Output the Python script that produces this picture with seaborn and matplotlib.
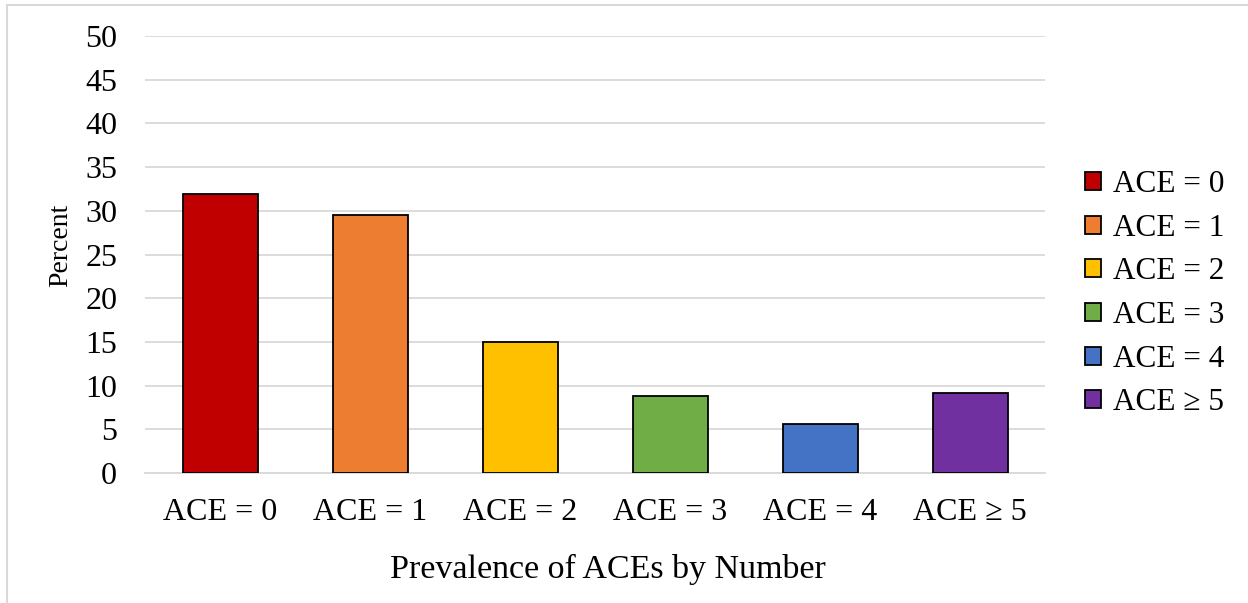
import matplotlib
matplotlib.use('Agg')
import matplotlib.pyplot as plt
import matplotlib.patches as mpatches
import seaborn as sns
import pandas as pd

# ==================== Data ====================
categories = ['ACE = 0', 'ACE = 1', 'ACE = 2', 'ACE = 3', 'ACE = 4', 'ACE \u2265 5']
percent = [31.9, 29.5, 15.0, 8.8, 5.6, 9.2]
bar_colors = ['#C00000', '#ED7D31', '#FFC000', '#70AD47', '#4472C4', '#7030A0']
y_ticks = [0, 5, 10, 15, 20, 25, 30, 35, 40, 45, 50]

# ==================== Style ====================
sns.set_theme(style='white')
plt.rcParams['font.family'] = ['Liberation Serif', 'DejaVu Serif']
plt.rcParams['text.color'] = 'black'
plt.rcParams['axes.labelcolor'] = 'black'

W, H = 1248, 603
fig = plt.figure(figsize=(W / 100, H / 100), dpi=100)
ax = fig.add_axes([145 / W, 1 - 473 / H, 900 / W, 437 / H])

df = pd.DataFrame({'Category': categories, 'Percent': percent})
palette = dict(zip(categories, bar_colors))

sns.barplot(data=df, x='Category', y='Percent', hue='Category', order=categories,
            hue_order=categories, palette=palette, width=0.5, edgecolor='black',
            linewidth=1.3, saturation=1, legend=False, ax=ax, zorder=3)

ax.set_ylim(0, 50)
ax.set_xlim(-0.5, len(categories) - 0.5)
ax.set_yticks(y_ticks)
ax.yaxis.grid(True, color='#D9D9D9', linewidth=1.3, zorder=0)
ax.xaxis.grid(False)
for side in ['left', 'right', 'top']:
    ax.spines[side].set_visible(False)
ax.spines['bottom'].set_color('#D9D9D9')
ax.spines['bottom'].set_linewidth(1.3)
ax.tick_params(axis='y', length=0, pad=20, labelsize=23, colors='black')
ax.tick_params(axis='x', length=0, pad=18, labelsize=23, colors='black')

ax.set_ylabel('Percent', fontsize=20)
ax.yaxis.set_label_coords(-0.08, 0.52)
ax.set_xlabel('Prevalence of ACEs by Number', fontsize=24.5)
ax.xaxis.set_label_coords(0.514, -0.186)

# Legend
handles = [mpatches.Patch(facecolor=c, edgecolor='black', linewidth=1.3, label=l)
           for c, l in zip(bar_colors, categories)]
ax.legend(handles=handles, loc='upper left', bbox_to_anchor=(1085 / W, 1 - 170 / H),
          bbox_transform=fig.transFigure, frameon=False, fontsize=22.5,
          handlelength=0.5, handleheight=0.5, handletextpad=0.4,
          labelspacing=0.47, borderaxespad=0, borderpad=0)

# Chart border
fig.patches.append(mpatches.Rectangle((7 / W, -0.05), 1.1, 1 - 5 / H + 0.05,
                                      transform=fig.transFigure, fill=False,
                                      edgecolor='#D9D9D9', linewidth=1.5))

fig.savefig('out.png', dpi=100)
